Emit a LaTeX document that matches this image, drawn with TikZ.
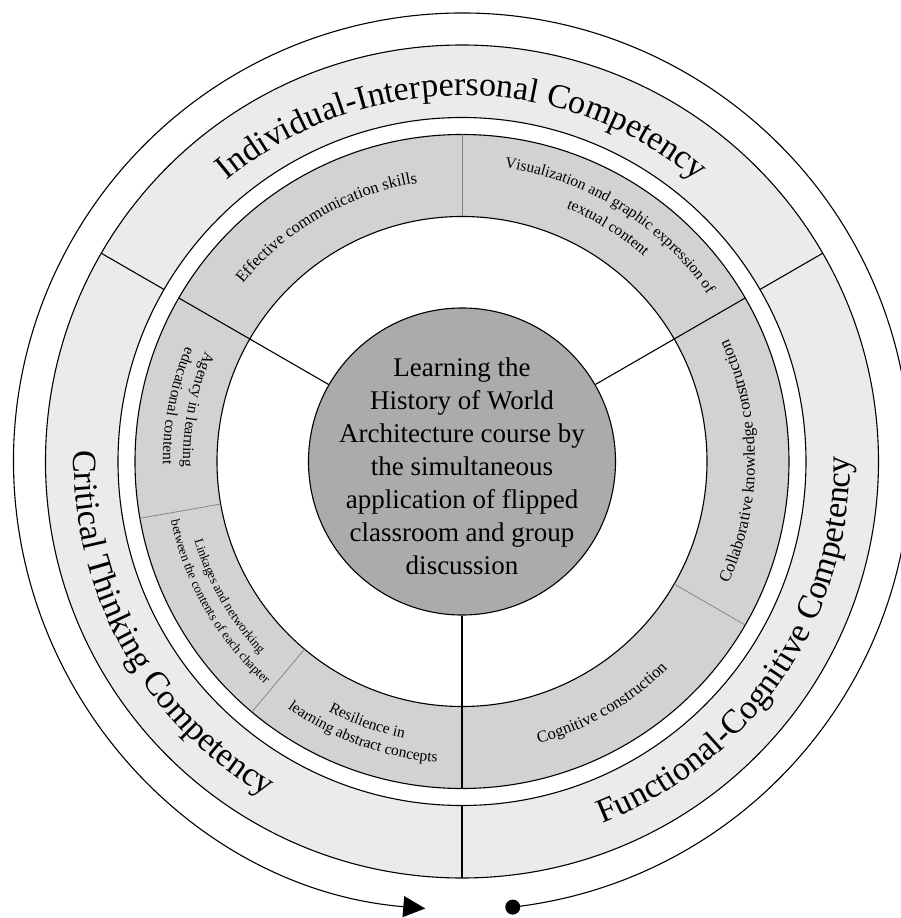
\documentclass[tikz,border=0pt]{standalone}
\usepackage{fontspec}
\setmainfont{Liberation Serif}
\usetikzlibrary{arrows.meta,decorations.text}

\definecolor{compgray}{HTML}{EBEBEB}
\definecolor{itemgray}{HTML}{D3D2D3}
\definecolor{coregray}{HTML}{ABABAB}

\newcommand{\compfont}{\fontsize{34}{34}\selectfont}
\newcommand{\itemfont}{\fontsize{16.5}{16.5}\selectfont}
\newcommand{\midfont}{\fontsize{15.5}{15.5}\selectfont}
\newcommand{\tinyfont}{\fontsize{13}{13}\selectfont}

\tikzset{
  ring/.style={line width=1.1pt},
  divider/.style={line width=1.1pt},
  subdivider/.style={line width=0.7pt, gray},
  arctext/.style={decorate, decoration={text along path, text align=center, text={#1}}},
}

\begin{document}
\begin{tikzpicture}

    \clip (-462pt,-456.5pt) rectangle (439pt,461.5pt);

    % Rings
    \fill[compgray, even odd rule] (0,0) circle[radius=416.5pt] circle[radius=344pt];
    \fill[itemgray, even odd rule] (0,0) circle[radius=327pt] circle[radius=245pt];
    \draw[ring] (0,0) circle[radius=416.5pt] circle[radius=344pt]
                      circle[radius=327pt] circle[radius=245pt];

    % Core circle
    \node[circle, draw, line width=1.1pt, fill=coregray, minimum size=307pt, inner sep=0pt] (core) at (0,0) {};
    \node[align=center, font=\fontsize{27}{33}\selectfont] (coretext) at (0,-5pt)
        {Learning the\\History of World\\Architecture course by\\the simultaneous\\application of flipped\\classroom and group\\discussion};

    % Subdivisions of the inner ring
    \foreach \a in {90,190,230,-30}
        \draw[subdivider] (\a:245pt) -- (\a:327pt);

    % Main dividers
    \foreach \a in {30,150,270} {
        \coordinate (rim\a) at (\a:327pt);
        \draw[divider] (core.\a) -- (rim\a);
        \draw[divider] (\a:344pt) -- (\a:416.5pt);
    }

    % Outer cycle arrow
    \fill (-83.5:448.5pt) circle[radius=7.5pt];
    \draw[ring, -{Triangle[length=22pt, width=21pt]}] (-83.5:448.5pt)
        arc[start angle=-83.5, end angle=265.3, radius=448.5pt];

    % Competencies
    \path[arctext={|\compfont|Individual-Interpersonal Competency}]
        (150:366pt) arc[start angle=150, end angle=30, radius=366pt];
    \path[arctext={|\compfont|Critical Thinking Competency}]
        (150:388pt) arc[start angle=150, end angle=268, radius=388pt];
    \path[arctext={|\compfont|Functional-Cognitive Competency}]
        (-94:388pt) arc[start angle=-94, end angle=26, radius=388pt];

    % Skills
    \path[arctext={|\itemfont|Effective communication skills}]
        (150:282pt) arc[start angle=150, end angle=90, radius=282pt];
    \path[arctext={|\midfont|Visualization and graphic expression of}]
        (88:297pt) arc[start angle=88, end angle=28, radius=297pt];
    \path[arctext={|\midfont|textual content}]
        (88:274pt) arc[start angle=88, end angle=28, radius=274pt];
    \path[arctext={|\itemfont|Collaborative knowledge construction}]
        (-30:293pt) arc[start angle=-30, end angle=30, radius=293pt];
    \path[arctext={|\itemfont|Cognitive construction}]
        (-90:292pt) arc[start angle=-90, end angle=-30, radius=292pt];
    \path[arctext={|\midfont|Resilience in}]
        (220:283pt) arc[start angle=220, end angle=280, radius=283pt];
    \path[arctext={|\midfont|learning abstract concepts}]
        (220:302pt) arc[start angle=220, end angle=280, radius=302pt];
    \path[arctext={|\tinyfont|Linkages and networking}]
        (180:279pt) arc[start angle=180, end angle=240, radius=279pt];
    \path[arctext={|\tinyfont|between the contents of each chapter}]
        (180:297pt) arc[start angle=180, end angle=240, radius=297pt];
    \path[arctext={|\midfont|Agency in learning}]
        (139:279pt) arc[start angle=139, end angle=199, radius=279pt];
    \path[arctext={|\midfont|educational content}]
        (139:299pt) arc[start angle=139, end angle=199, radius=299pt];

\end{tikzpicture}
\end{document}
